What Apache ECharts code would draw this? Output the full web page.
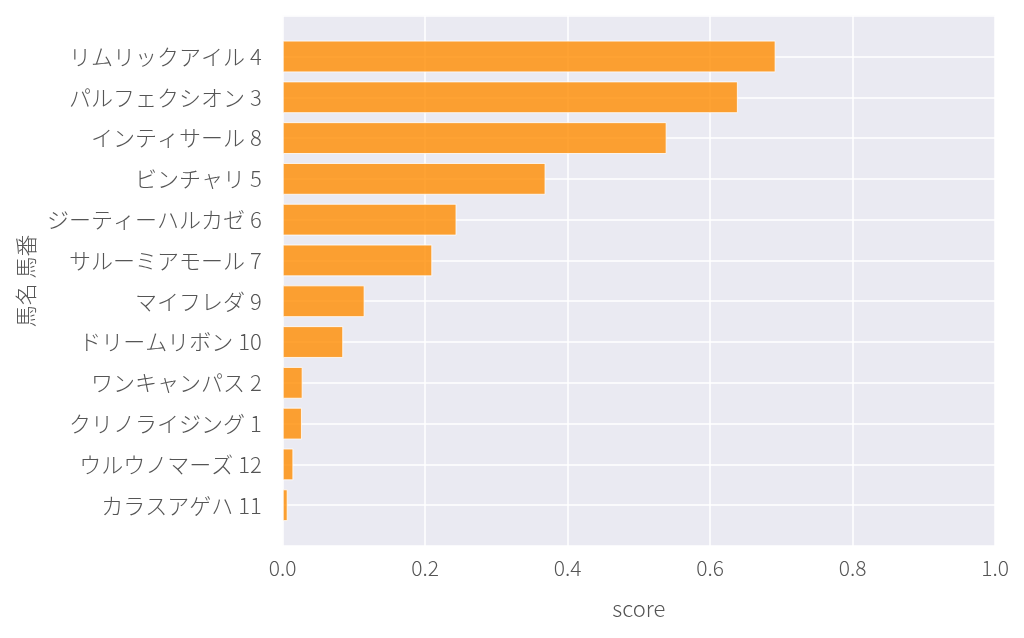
<!DOCTYPE html>
<html>
<head>
<meta charset="utf-8">
<script src="https://cdn.jsdelivr.net/npm/echarts@6/dist/echarts.min.js"></script>
<style>html,body{margin:0;padding:0;background:#fff;}#c{width:1024px;height:638px;}</style>
</head>
<body>
<div id="c"></div>
<script>
const categories = ['リムリックアイル 4','パルフェクシオン 3','インティサール 8','ビンチャリ 5','ジーティーハルカゼ 6','サルーミアモール 7','マイフレダ 9','ドリームリボン 10','ワンキャンパス 2','クリノライジング 1','ウルウノマーズ 12','カラスアゲハ 11'];
const scores = [0.692, 0.639, 0.539, 0.369, 0.244, 0.210, 0.115, 0.085, 0.028, 0.027, 0.015, 0.007];
const xTicks = [0, 0.2, 0.4, 0.6, 0.8, 1.0];

const cats = [''].concat(categories, ['']);
const vals = [null].concat(scores, [null]);
const FONT = "'Noto Sans CJK JP', 'Noto Sans', sans-serif";
const chart = echarts.init(document.getElementById('c'));
chart.setOption({
  animation: false,
  grid: {left: 282.7, right: 29, top: 15.7, bottom: 92, backgroundColor: '#eaeaf2', show: true, borderWidth: 0},
  xAxis: {
    type: 'value', min: xTicks[0], max: xTicks[xTicks.length-1], interval: 0.2,
    name: 'score', nameLocation: 'middle', nameGap: 52,
    nameTextStyle: {fontFamily: FONT, fontWeight: 300, fontSize: 22, color: '#555'},
    axisLine: {show: false}, axisTick: {show: false},
    axisLabel: {fontFamily: FONT, fontWeight: 300, fontSize: 21, color: '#555', margin: 12, formatter: v => v.toFixed(1)},
    splitLine: {lineStyle: {color: '#ffffff', width: 1.5}}
  },
  yAxis: {
    type: 'category', data: cats, inverse: true, boundaryGap: false,
    name: '馬名 馬番', nameLocation: 'middle', nameGap: 246, nameRotate: 90,
    nameTextStyle: {fontFamily: FONT, fontWeight: 300, fontSize: 22, color: '#555'},
    axisLine: {show: false}, axisTick: {show: false},
    axisLabel: {fontFamily: FONT, fontWeight: 300, fontSize: 22, color: '#555', margin: 21},
    splitLine: {show: true, lineStyle: {color: '#ffffff', width: 1.5}}
  },
  series: [{
    type: 'bar', data: vals, barWidth: '78%',
    itemStyle: {color: '#ff8c00', borderColor: '#ffffff', borderWidth: 1, opacity: 0.8}
  }]
});
</script>
</body>
</html>
